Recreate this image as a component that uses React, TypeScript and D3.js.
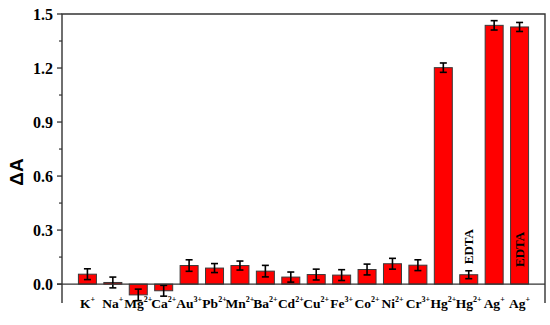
import React from "react";
import * as d3 from "d3";

const ionBase = ["K", "Na", "Mg", "Ca", "Au", "Pb", "Mn", "Ba", "Cd", "Cu", "Fe", "Co", "Ni", "Cr", "Hg", "Hg", "Ag", "Ag"];
const ionCharge = ["+", "+", "2+", "2+", "3+", "2+", "2+", "2+", "2+", "2+", "3+", "2+", "2+", "3+", "2+", "2+", "+", "+"];
const values = [0.055, 0.009, -0.06, -0.037, 0.103, 0.089, 0.103, 0.072, 0.039, 0.053, 0.05, 0.081, 0.113, 0.105, 1.202, 0.052, 1.437, 1.428];
const errors = [0.03, 0.03, 0.032, 0.03, 0.032, 0.025, 0.025, 0.032, 0.028, 0.03, 0.03, 0.03, 0.03, 0.03, 0.026, 0.022, 0.026, 0.025];
const yTicks = [0, 0.3, 0.6, 0.9, 1.2, 1.5];
const yMinorTicks = [0.15, 0.45, 0.75, 1.05, 1.35];
const edtaIdx = [15, 17];
const edtaAt = [0.11, 0.095];

const W = 550, H = 325;
const L = 62, R = 545, T = 14, B = 303;

export default function App() {
  const keys = ionBase.map((_, i) => String(i));
  const x = d3.scalePoint<string>().domain(keys).range([L, R]).padding(1);
  const y = d3.scaleLinear().domain([-0.105, 1.5]).range([B, T]);
  const bw = 18;
  const cap = 3.5;
  const serif = "'Liberation Serif', 'Times New Roman', serif";
  const frame = "#333";
  return (
    <svg width={W} height={H} style={{ position: "absolute", left: 0, top: 0 }}>
      <rect x={0} y={0} width={W} height={H} fill="#fff" />
      {values.map((v, i) => {
        const cx = x(keys[i])!;
        const y0 = y(0), y1 = y(v);
        return (
          <rect key={"b" + i} x={cx - bw / 2} y={Math.min(y0, y1)} width={bw} height={Math.abs(y1 - y0)}
            fill="#ff0000" stroke="#3a3a3a" strokeWidth={1} />
        );
      })}
      {values.map((v, i) => {
        const cx = x(keys[i])!;
        const hi = y(v + errors[i]), lo = y(v - errors[i]);
        return (
          <g key={"e" + i} stroke="#000" strokeWidth={1.6}>
            <line x1={cx} x2={cx} y1={hi} y2={lo} />
            <line x1={cx - cap} x2={cx + cap} y1={hi} y2={hi} />
            <line x1={cx - cap} x2={cx + cap} y1={lo} y2={lo} />
          </g>
        );
      })}
      <line x1={L - 5} x2={R} y1={y(0)} y2={y(0)} stroke={frame} strokeWidth={1.3} />
      <path d={`M${L},${B}V${T}H${R}V${B}`} fill="none" stroke={frame} strokeWidth={1.4} />
      {yTicks.map((t) => (
        <g key={"t" + t}>
          <line x1={L - 5} x2={L} y1={y(t)} y2={y(t)} stroke={frame} strokeWidth={1.3} />
          <text x={L - 9} y={y(t)} dy="0.35em" textAnchor="end" fontFamily={serif} fontWeight="bold" fontSize={16}>
            {t.toFixed(1)}
          </text>
        </g>
      ))}
      {yMinorTicks.map((t) => (
        <line key={"m" + t} x1={L - 3} x2={L} y1={y(t)} y2={y(t)} stroke={frame} strokeWidth={1.2} />
      ))}
      {ionBase.map((b, i) => (
        <text key={"l" + i} x={x(keys[i])!} y={308} textAnchor="middle" fontFamily={serif} fontWeight="bold" fontSize={13.5}>
          {b}
          <tspan fontSize={8} dy={-6}>{ionCharge[i]}</tspan>
        </text>
      ))}
      {edtaIdx.map((idx, k) => {
        const cx = x(keys[idx])!;
        const yy = y(edtaAt[k]);
        return (
          <text key={"a" + k} transform={`translate(${cx},${yy}) rotate(-90)`} dy="0.35em" textAnchor="start"
            fontFamily={serif} fontWeight="bold" fontSize={13} fill="#000">
            EDTA
          </text>
        );
      })}
      <text transform={`translate(23,172) rotate(-90)`} textAnchor="middle" fontFamily="'Liberation Sans', Arial, sans-serif"
        fontWeight="bold" fontSize={19}>
        ΔA
      </text>
    </svg>
  );
}
